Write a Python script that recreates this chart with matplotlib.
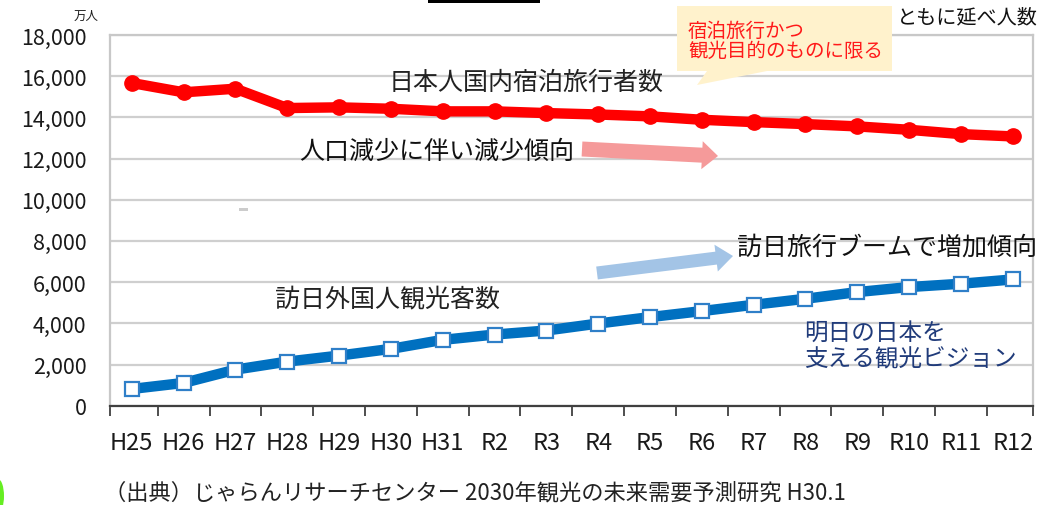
import matplotlib
matplotlib.use("Agg")
import matplotlib.pyplot as plt
import matplotlib.ticker as mticker
from matplotlib.patches import FancyArrow, Polygon, Rectangle, Ellipse
from matplotlib.transforms import IdentityTransform
import numpy as np

plt.rcParams['font.family'] = ['Noto Sans CJK JP', 'DejaVu Sans']

# ---- data ----
years = ["H25", "H26", "H27", "H28", "H29", "H30", "H31", "R2", "R3",
         "R4", "R5", "R6", "R7", "R8", "R9", "R10", "R11", "R12"]
domestic = [15670, 15217, 15392, 14453, 14487, 14418, 14292, 14292, 14209,
            14140, 14049, 13883, 13771, 13674, 13562, 13397, 13187, 13075]
inbound = [813, 1105, 1752, 2141, 2433, 2759, 3197, 3455, 3650,
           3990, 4302, 4594, 4900, 5192, 5518, 5761, 5922, 6131]
yticks = list(range(0, 18001, 2000))

W, H = 1045, 506
fig = plt.figure(figsize=(W / 100, H / 100), dpi=100)
ax = fig.add_axes([110 / W, 1 - 406.7 / H, (1033 - 110) / W, (406.7 - 36) / H])

x = np.arange(len(years))
ax.plot(x, domestic, color='#ff0000', lw=7.5, marker='o', ms=11,
        mfc='#ff0000', mec='#ff0000', zorder=4, solid_capstyle='round')
ax.plot(x, inbound, color='#0070c0', lw=7.5, marker='s', ms=10,
        mfc='white', mec='#2f7fc8', mew=1.6, zorder=4)

ax.set_xlim(-0.42, 17.39)
ax.set_ylim(0, 18000)
ax.set_yticks(yticks)
ax.yaxis.set_major_formatter(mticker.FuncFormatter(lambda v, p: f"{int(v):,}"))
ax.set_xticks(x)
ax.set_xticklabels(years)
xmin, xmax = ax.get_xlim()
ax.set_xticks([xmin] + list(np.arange(0.5, 17, 1)) + [xmax], minor=True)
ax.tick_params(axis='x', which='major', length=0, pad=18, labelsize=17, labelcolor='#1a1a1a')
ax.tick_params(axis='x', which='minor', length=7, width=1.3, color='#404040', direction='out')
ax.tick_params(axis='y', length=0, pad=17, labelsize=15.5, labelcolor='#1a1a1a')

ax.grid(axis='y', color='#cfcfcf', lw=1.6, zorder=0)
ax.set_axisbelow(True)
for s in ['left', 'right', 'top']:
    ax.spines[s].set_color('#c8c8c8')
    ax.spines[s].set_linewidth(1.6)
ax.spines['bottom'].set_color('#404040')
ax.spines['bottom'].set_linewidth(1.6)

T = IdentityTransform()
def P(px, py):
    return px / W, 1 - py / H

# unit label
fig.text(*P(86, 16), "万人", fontsize=9, ha='center', va='center', color='#222222')

# series labels
fig.text(*P(526, 83), "日本人国内宿泊旅行者数", fontsize=18, ha='center', va='center', color='#222222')
fig.text(*P(437, 152), "人口減少に伴い減少傾向", fontsize=18, ha='center', va='center', color='#111111')
fig.text(*P(388, 300), "訪日外国人観光客数", fontsize=18, ha='center', va='center', color='#222222')
fig.text(*P(887, 248), "訪日旅行ブームで増加傾向", fontsize=18, ha='center', va='center', color='#111111')
fig.text(*P(804, 347), "明日の日本を\n支える観光ビジョン", fontsize=17, ha='left', va='center',
         color='#203b7a', linespacing=1.2)

# arrows (pixel coordinates)
fig.add_artist(FancyArrow(582, H - 150, 136, -7, width=15, head_width=28, head_length=16,
                          length_includes_head=True, transform=T, facecolor='#f59a9a',
                          edgecolor='none', zorder=3))
fig.add_artist(FancyArrow(597, H - 274, 136, 17, width=13, head_width=27, head_length=17,
                          length_includes_head=True, transform=T, facecolor='#a3c4e6',
                          edgecolor='none', zorder=3))

# callout
pts = [(677, 7), (892, 7), (892, 72), (767, 72), (697, 86), (707, 72), (677, 72)]
fig.add_artist(Polygon([(a, H - b) for a, b in pts], closed=True, transform=T,
                       facecolor='#fff2cc', edgecolor='none', zorder=5))
fig.text(*P(688, 41), "宿泊旅行かつ\n観光目的のものに限る", fontsize=14, ha='left', va='center',
         color='#ff1a1a', linespacing=0.95, zorder=6)
fig.text(*P(967, 18), "ともに延べ人数", fontsize=14.5, ha='center', va='center', color='#111111',
         zorder=6, bbox=dict(facecolor='white', edgecolor='none', pad=1))

# source
fig.text(*P(104, 493), "（出典）じゃらんリサーチセンター 2030年観光の未来需要予測研究 H30.1",
         fontsize=16, ha='left', va='center', color='#222222')

# decorations
fig.add_artist(Rectangle((428, H - 4), 112, 4, transform=T, facecolor='black', edgecolor='none'))
fig.add_artist(Rectangle((239, H - 212), 9, 3, transform=T, facecolor='#cccccc', edgecolor='none'))
fig.add_artist(Ellipse((-2, H - 497), 12, 34, transform=T, facecolor='#66ee22', edgecolor='none'))

fig.savefig("out.png", dpi=100)
